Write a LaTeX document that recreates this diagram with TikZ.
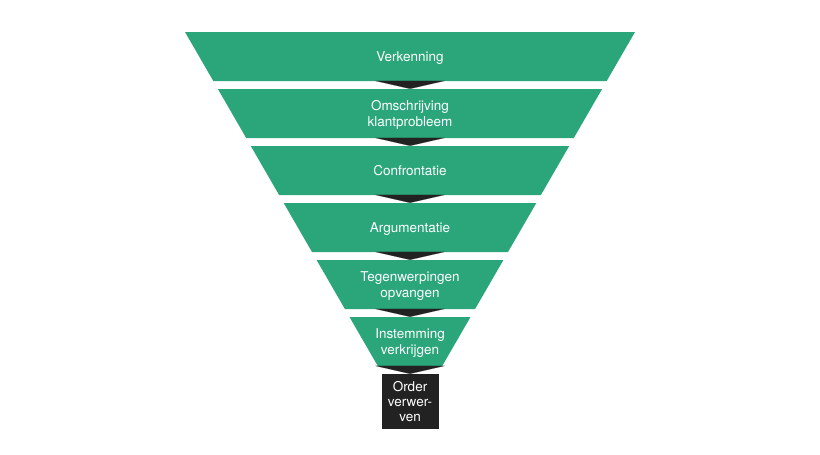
\documentclass[tikz,border=0pt]{standalone}
\usepackage{fontspec}
\setmainfont{TeX Gyre Heros}
\usetikzlibrary{arrows.meta}
\definecolor{funnelgreen}{HTML}{2AA67A}
\definecolor{funnelblack}{HTML}{222222}

\begin{document}
\begin{tikzpicture}[
    x=1pt, y=-1pt,
    every node/.style={font=\fontsize{13.5}{15.3}\selectfont, text=white,
      align=center, text depth=0pt},
    stage/.style={minimum width=100pt, minimum height=49pt, inner sep=0pt},
    bandfill/.style={fill=funnelgreen},
    goal/.style={fill=funnelblack, minimum width=57pt, minimum height=55pt,
      inner sep=0pt, font=\fontsize{13.5}{15}\selectfont},
    flow/.style={draw=funnelblack, line width=0.1pt, -{Triangle[width=70pt,length=8pt]}}
  ]
  \useasboundingbox (0,0) rectangle (820,455);
  \fill[white] (0,0) rectangle (820,455);

  % Funnel stages (top width, slanted sides)
  \foreach \i/\w/\txt in {1/450/Verkenning,
      2/384.2/{Omschrijving\\klantprobleem},
      3/318.4/Confrontatie,
      4/252.6/Argumentatie,
      5/186.8/{Tegenwerpingen\\opvangen},
      6/121/{Instemming\\verkrijgen}}{
    \pgfmathsetmacro\yc{56.5+57*(\i-1)}
    \pgfmathsetmacro\hw{\w/2}
    \pgfmathsetmacro\bw{\w/2-28.3}
    \fill[bandfill] (410-\hw,\yc-24.5) -- (410+\hw,\yc-24.5)
      -- (410+\bw,\yc+24.5) -- (410-\bw,\yc+24.5) -- cycle;
    \node[stage] (b\i) at (410,\yc) {\txt};
  }

  % Result
  \node[goal] (order) at (410,401.5) {Order\\verwer-\\ven};

  % Arrows between stages
  \foreach \i [evaluate=\i as \j using int(\i+1)] in {1,...,5}
    \draw[flow] (b\i) -- (b\j);
  \draw[flow] (b6) -- (order);
\end{tikzpicture}
\end{document}
